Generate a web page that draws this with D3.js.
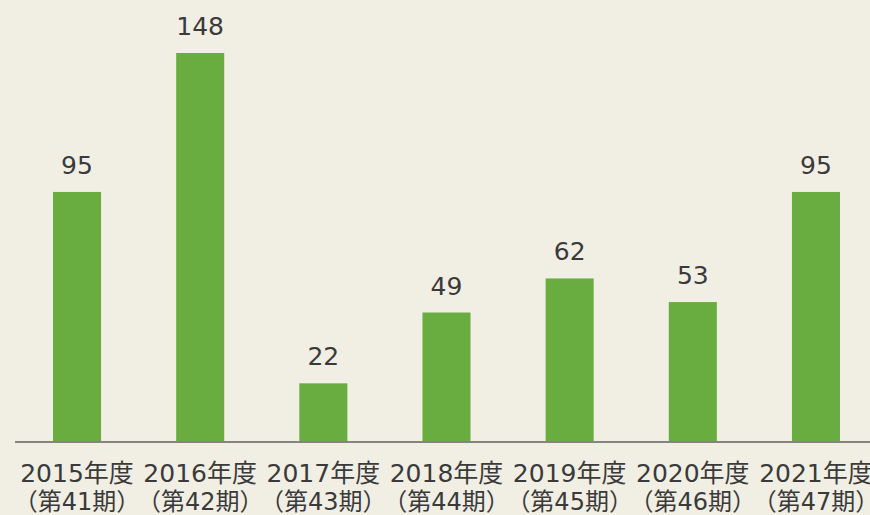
<!DOCTYPE html>
<html>
<head>
<meta charset="utf-8">
<script src="https://cdn.jsdelivr.net/npm/d3@7"></script>
<style>
  html, body { margin: 0; padding: 0; background: #f1eee4; }
  svg { display: block; }
  text { font-family: "DejaVu Sans", "Noto Sans CJK JP", sans-serif; fill: #3a3a3a; }
</style>
</head>
<body>
<div id="chart-area"></div>
<script>
// Data
const years = ["2015年度", "2016年度", "2017年度", "2018年度", "2019年度", "2020年度", "2021年度"];
const periods = ["（第41期）", "（第42期）", "（第43期）", "（第44期）", "（第45期）", "（第46期）", "（第47期）"];
const values = [95, 148, 22, 49, 62, 53, 95];

const width = 870, height = 515;
const baseY = 441;

const svg = d3.select("#chart-area")
    .append("svg")
    .attr("width", width)
    .attr("height", height);

svg.append("rect")
    .attr("width", width)
    .attr("height", height)
    .attr("fill", "#f1eee4");

// Scales
const xScale = d3.scaleBand()
    .domain(years)
    .range([29, 864])
    .paddingInner(0.61)
    .paddingOuter(0.195);

const yScale = d3.scaleLinear()
    .domain([0, 148])
    .range([baseY, 53]);

const data = years.map((y, i) => ({ year: y, period: periods[i], value: values[i] }));

// Bars
svg.selectAll(".bar")
    .data(data)
    .enter().append("rect")
    .attr("class", "bar")
    .attr("x", d => xScale(d.year))
    .attr("y", d => yScale(d.value))
    .attr("width", xScale.bandwidth())
    .attr("height", d => baseY - yScale(d.value))
    .attr("fill", "#69ad40");

// Value labels
svg.selectAll(".value-label")
    .data(data)
    .enter().append("text")
    .attr("class", "value-label")
    .attr("x", d => xScale(d.year) + xScale.bandwidth() / 2)
    .attr("y", d => yScale(d.value) - 18)
    .attr("text-anchor", "middle")
    .style("font-size", "25px")
    .text(d => d.value);

// Baseline
svg.append("line")
    .attr("x1", 15)
    .attr("x2", width)
    .attr("y1", baseY + 1)
    .attr("y2", baseY + 1)
    .attr("stroke", "#858580")
    .attr("stroke-width", 2);

// Category labels (two lines)
svg.selectAll(".year-label")
    .data(data)
    .enter().append("text")
    .attr("class", "year-label")
    .attr("x", d => xScale(d.year) + xScale.bandwidth() / 2)
    .attr("y", 482)
    .attr("text-anchor", "middle")
    .style("font-size", "25px")
    .text(d => d.year);

svg.selectAll(".period-label")
    .data(data)
    .enter().append("text")
    .attr("class", "period-label")
    .attr("x", d => xScale(d.year) + xScale.bandwidth() / 2)
    .attr("y", 510)
    .attr("text-anchor", "middle")
    .style("font-size", "24px")
    .text(d => d.period);
</script>
</body>
</html>
